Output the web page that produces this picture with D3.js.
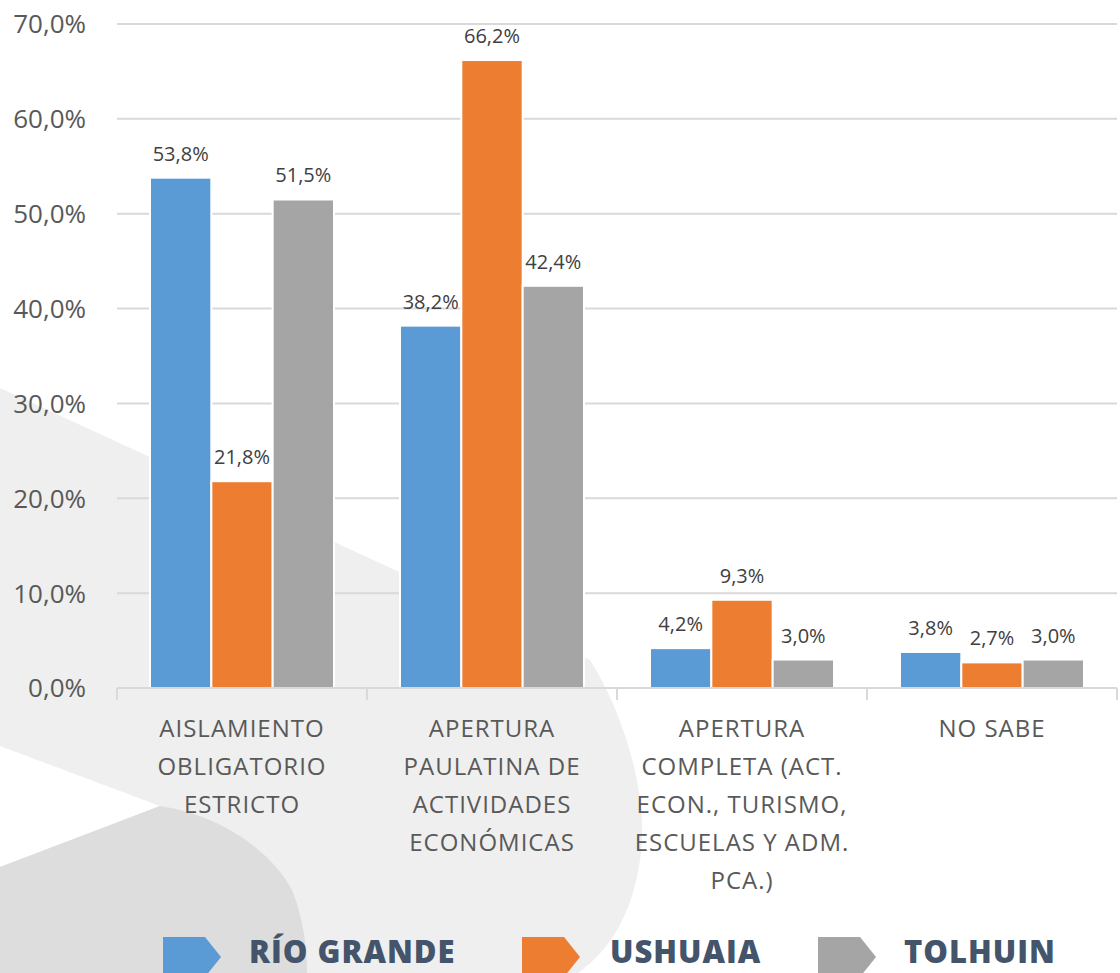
<!DOCTYPE html>
<html>
<head>
<meta charset="utf-8">
<script src="https://cdn.jsdelivr.net/npm/d3@7"></script>
<style>
  body { margin: 0; background: #fff; }
  svg { display: block; }
</style>
</head>
<body>
<div id="chart"></div>
<script>
// Data
const categories = [
    ["AISLAMIENTO", "OBLIGATORIO", "ESTRICTO"],
    ["APERTURA", "PAULATINA DE", "ACTIVIDADES", "ECONÓMICAS"],
    ["APERTURA", "COMPLETA (ACT.", "ECON., TURISMO,", "ESCUELAS Y ADM.", "PCA.)"],
    ["NO SABE"]
];
const seriesNames = ["RÍO GRANDE", "USHUAIA", "TOLHUIN"];
const rioGrande = [53.8, 38.2, 4.2, 3.8];
const ushuaia = [21.8, 66.2, 9.3, 2.7];
const tolhuin = [51.5, 42.4, 3.0, 3.0];
const yTicks = [0, 10, 20, 30, 40, 50, 60, 70];
const colors = ["#5B9BD5", "#ED7D31", "#A5A5A5"];

const series = [rioGrande, ushuaia, tolhuin];
const W = 1120, H = 973;
const fmt = v => v.toFixed(1).replace(".", ",") + "%";

const svg = d3.select("#chart").append("svg")
    .attr("width", W)
    .attr("height", H);

// Background watermark shapes
const bg = svg.append("g");
bg.append("path")
    .attr("d", "M0,388 L590,660 C625,715 650,800 640,860 C632,915 610,950 578,973 L0,973 Z")
    .attr("fill", "#efefef");
bg.append("path")
    .attr("d", "M0,746 L160,806 L0,867 Z")
    .attr("fill", "#ffffff");
bg.append("path")
    .attr("d", "M0,867 L160,806 C220,815 270,850 292,890 C304,920 307,950 307,973 L0,973 Z")
    .attr("fill", "#dddddd");

// Scales
const x0 = d3.scaleBand()
    .domain(d3.range(categories.length))
    .range([117, 1117])
    .padding(0);

const x1 = d3.scaleBand()
    .domain(d3.range(series.length))
    .range([33, 217])
    .padding(0);

const y = d3.scaleLinear()
    .domain([0, 70])
    .range([688, 24]);

// Gridlines
svg.append("g")
    .selectAll("line")
    .data(yTicks.filter(d => d > 0))
    .join("line")
    .attr("x1", 117)
    .attr("x2", 1117)
    .attr("y1", d => y(d))
    .attr("y2", d => y(d))
    .attr("stroke", "#d9d9d9")
    .attr("stroke-width", 2);

// Y axis labels
svg.append("g")
    .selectAll("text")
    .data(yTicks)
    .join("text")
    .attr("x", 86)
    .attr("y", d => y(d))
    .attr("dy", "0.36em")
    .attr("text-anchor", "end")
    .attr("font-family", "Open Sans, sans-serif")
    .attr("font-size", 26)
    .attr("fill", "#595959")
    .text(d => fmt(d));

// Bars
const groups = svg.append("g")
    .selectAll("g")
    .data(categories.map((c, i) => i))
    .join("g")
    .attr("transform", i => `translate(${x0(i)},0)`);

groups.selectAll("rect")
    .data(i => series.map((s, j) => ({ j: j, v: s[i] })))
    .join("rect")
    .attr("x", d => x1(d.j))
    .attr("y", d => y(d.v))
    .attr("width", x1.bandwidth())
    .attr("height", d => y(0) - y(d.v))
    .attr("fill", d => colors[d.j])
    .attr("stroke", "#fff")
    .attr("stroke-width", 2);

groups.selectAll("text")
    .data(i => series.map((s, j) => ({ j: j, v: s[i] })))
    .join("text")
    .attr("x", d => x1(d.j) + x1.bandwidth() / 2)
    .attr("y", d => y(d.v) - 17)
    .attr("text-anchor", "middle")
    .attr("font-family", "Open Sans, sans-serif")
    .attr("font-size", 20)
    .attr("fill", "#404040")
    .text(d => fmt(d.v));

// X axis
svg.append("line")
    .attr("x1", 117)
    .attr("x2", 1117)
    .attr("y1", 688)
    .attr("y2", 688)
    .attr("stroke", "#d9d9d9")
    .attr("stroke-width", 2);

svg.append("g")
    .selectAll("line")
    .data(d3.range(categories.length + 1))
    .join("line")
    .attr("x1", i => 117 + i * x0.bandwidth())
    .attr("x2", i => 117 + i * x0.bandwidth())
    .attr("y1", 688)
    .attr("y2", 700)
    .attr("stroke", "#d9d9d9")
    .attr("stroke-width", 2);

// Category labels
const catLabels = svg.append("g")
    .selectAll("text")
    .data(categories)
    .join("text")
    .attr("x", (d, i) => x0(i) + x0.bandwidth() / 2)
    .attr("y", 737)
    .attr("text-anchor", "middle")
    .attr("font-family", "Open Sans, sans-serif")
    .attr("font-size", 24)
    .attr("letter-spacing", 1)
    .attr("fill", "#595959");

catLabels.selectAll("tspan")
    .data(d => d)
    .join("tspan")
    .attr("x", function() { return d3.select(this.parentNode).attr("x"); })
    .attr("dy", (d, i) => i === 0 ? 0 : 38)
    .text(d => d);

// Legend
const legendX = [163, 522, 818];
const legendTextX = [249, 610, 904];
const legend = svg.append("g");
seriesNames.forEach((name, i) => {
    const lx = legendX[i];
    legend.append("path")
        .attr("d", `M${lx},937 L${lx + 42},937 L${lx + 58},957 L${lx + 42},977 L${lx},977 Z`)
        .attr("fill", colors[i]);
    legend.append("text")
        .attr("x", legendTextX[i])
        .attr("y", 963)
        .attr("font-family", "Open Sans, sans-serif")
        .attr("font-weight", 800)
        .attr("font-size", 31)
        .attr("letter-spacing", 1)
        .attr("fill", "#44546A")
        .text(name);
});
</script>
</body>
</html>
